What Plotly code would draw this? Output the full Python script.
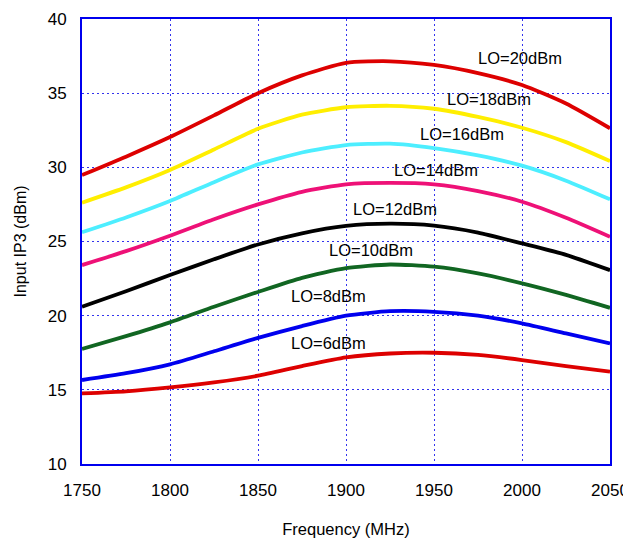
import plotly.graph_objects as go

freq = [1750, 1775, 1800, 1825, 1850, 1875, 1900, 1925, 1950, 1975, 2000, 2025, 2050]

lo20 = [29.48, 30.72, 32.04, 33.5, 35.0, 36.2, 37.05, 37.15, 36.9, 36.35, 35.55, 34.3, 32.63]
lo18 = [27.62, 28.65, 29.82, 31.2, 32.6, 33.55, 34.05, 34.15, 33.95, 33.4, 32.67, 31.7, 30.42]
lo16 = [25.62, 26.62, 27.73, 29.0, 30.2, 31.0, 31.5, 31.6, 31.3, 30.8, 30.11, 29.1, 27.84]
lo14 = [23.41, 24.35, 25.39, 26.5, 27.5, 28.35, 28.85, 28.95, 28.85, 28.4, 27.68, 26.6, 25.32]
lo12 = [20.6, 21.65, 22.74, 23.8, 24.8, 25.55, 26.05, 26.2, 26.07, 25.6, 24.87, 24.1, 23.07]
lo10 = [17.75, 18.62, 19.55, 20.6, 21.6, 22.55, 23.2, 23.45, 23.3, 22.85, 22.18, 21.4, 20.53]
lo8 = [15.66, 16.12, 16.72, 17.6, 18.5, 19.3, 20.0, 20.3, 20.26, 20.0, 19.48, 18.8, 18.13]
lo6 = [14.76, 14.9, 15.16, 15.5, 15.95, 16.6, 17.19, 17.45, 17.5, 17.35, 17.01, 16.6, 16.22]

series_names = ["LO=20dBm", "LO=18dBm", "LO=16dBm", "LO=14dBm",
                "LO=12dBm", "LO=10dBm", "LO=8dBm", "LO=6dBm"]
series_values = [lo20, lo18, lo16, lo14, lo12, lo10, lo8, lo6]
series_colors = ["#DD0000", "#FFEE00", "#4DEEFF", "#EE1177",
                 "#000000", "#116622", "#0000EE", "#DD0000"]

label_x = [1999, 1981, 1966, 1951, 1928, 1914, 1890, 1890]
label_y = [37.37, 34.6, 32.25, 29.82, 27.19, 24.42, 21.32, 18.15]

x_ticks = [1750, 1800, 1850, 1900, 1950, 2000, 2050]
y_ticks = [10, 15, 20, 25, 30, 35, 40]

font_family = "Liberation Sans, Arial, sans-serif"

fig = go.Figure()
for name, vals, col in zip(series_names, series_values, series_colors):
    fig.add_trace(go.Scatter(x=freq, y=vals, mode="lines", name=name,
                             line=dict(color=col, width=3.8, shape="spline", smoothing=0.6)))

for name, lx, ly in zip(series_names, label_x, label_y):
    fig.add_annotation(x=lx, y=ly, text=name, showarrow=False,
                       font=dict(family=font_family, size=16.5, color="black"))

grid_style = dict(showgrid=True, gridcolor="#3333EE", gridwidth=1, griddash="2px,3px",
                  showline=True, linecolor="#0000EE", linewidth=2, mirror=True,
                  zeroline=False, ticks="", automargin=False,
                  tickfont=dict(family=font_family, size=17, color="black"))

fig.update_xaxes(range=[1750, 2050], tickvals=x_ticks, ticklabelstandoff=10,
                 title=dict(text="Frequency (MHz)", standoff=24,
                            font=dict(family=font_family, size=16.5, color="black")),
                 **grid_style)
fig.update_yaxes(range=[10, 40], tickvals=y_ticks, ticklabelstandoff=10,
                 title=dict(text="Input IP3 (dBm)", standoff=17,
                            font=dict(family=font_family, size=16, color="black")),
                 **grid_style)

# page body has an 8px margin, so the figure is sized to fit the 631x540 window
fig.update_layout(width=623, height=532, showlegend=False,
                  plot_bgcolor="white", paper_bgcolor="white",
                  margin=dict(l=74, r=21, t=11, b=76, pad=0))

fig.write_html("out.html")
